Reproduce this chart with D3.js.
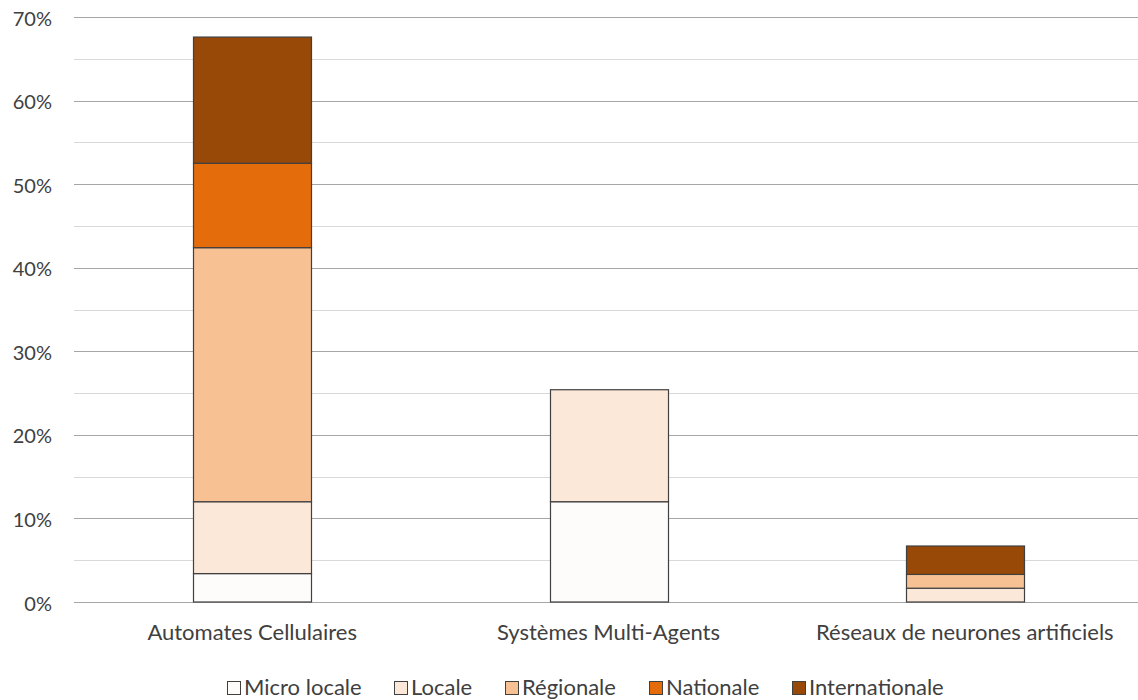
<!DOCTYPE html>
<html><head><meta charset="utf-8">
<script src="https://cdn.jsdelivr.net/npm/d3@7"></script>
<style>body{margin:0;background:#fff}svg{display:block}text{font-family:Lato,"Open Sans",sans-serif;fill:#404040}</style>
</head><body><svg id="c" width="1138" height="700"></svg>
<script>
const categories = ["Automates Cellulaires", "Systèmes Multi-Agents", "Réseaux de neurones artificiels"];
const seriesNames = ["Micro locale", "Locale", "Régionale", "Nationale", "Internationale"];
const microLocale   = [3.4, 12.0, 0];
const locale        = [8.6, 13.4, 1.65];
const regionale     = [30.4, 0, 1.65];
const nationale     = [10.1, 0, 0];
const internationale= [15.1, 0, 3.4];
const colors = ["#FEFCFA", "#FCE8D9", "#F8C193", "#E46C0A", "#984807"];
const yTicks = [0,10,20,30,40,50,60,70];

const svg = d3.select("#c");
const rows = categories.map((c,i)=>({cat:c, "Micro locale":microLocale[i], "Locale":locale[i], "Régionale":regionale[i], "Nationale":nationale[i], "Internationale":internationale[i]}));
const stack = d3.stack().keys(seriesNames)(rows);

const x = d3.scaleBand().domain(categories).range([74, 1143]).paddingInner(0.67).paddingOuter(0.335);
const y = d3.scaleLinear().domain([0,70]).range([602, 17]);

// grid
const gridVals = d3.range(0, 71, 5);
svg.append("g").selectAll("line").data(gridVals).join("line")
  .attr("x1", 74).attr("x2", 1138)
  .attr("y1", d=>Math.round(y(d))+0.5).attr("y2", d=>Math.round(y(d))+0.5)
  .attr("stroke", d=> d%10===0 ? "#A6A6A6" : "#D9D9D9").attr("stroke-width", 1);

// y axis labels
const yAxis = d3.axisLeft(y).tickValues(yTicks).tickFormat(d=>d+"%").tickSize(0).tickPadding(0);
const gy = svg.append("g").attr("transform","translate(52,0)").call(yAxis);
gy.select(".domain").remove();
gy.selectAll("text").attr("font-size", 20).attr("fill","#404040").style("font-family","Lato, sans-serif").attr("dy","0.4em");

// bars
svg.append("g").selectAll("g").data(stack).join("g")
  .attr("fill", (d,i)=>colors[i])
  .selectAll("rect").data(d=>d.filter(s=>s[1]-s[0]>0)).join("rect")
  .attr("x", d=>Math.round(x(d.data.cat))+0.5)
  .attr("width", Math.round(x.bandwidth()))
  .attr("y", d=>y(d[1]))
  .attr("height", d=>y(d[0])-y(d[1]))
  .attr("stroke", "#404040").attr("stroke-width", 1.2);

// x axis labels
const xAxis = d3.axisBottom(x).tickSize(0).tickPadding(0);
const gx = svg.append("g").attr("transform","translate(0,640)").call(xAxis);
gx.select(".domain").remove();
gx.selectAll("text").attr("font-size", 22).attr("fill","#404040").style("font-family","Lato, sans-serif").attr("dy","0");

// legend
const legX = [227, 394, 505, 649, 792];
const lg = svg.append("g").selectAll("g").data(seriesNames).join("g")
  .attr("transform", (d,i)=>`translate(${legX[i]},681)`);
lg.append("rect").attr("x",0.5).attr("y",0.5).attr("width",13).attr("height",13)
  .attr("fill",(d,i)=>colors[i]).attr("stroke","#404040").attr("stroke-width",1);
lg.append("text").attr("x",17).attr("y",13.5).attr("font-size",22).text(d=>d);
</script></body></html>
